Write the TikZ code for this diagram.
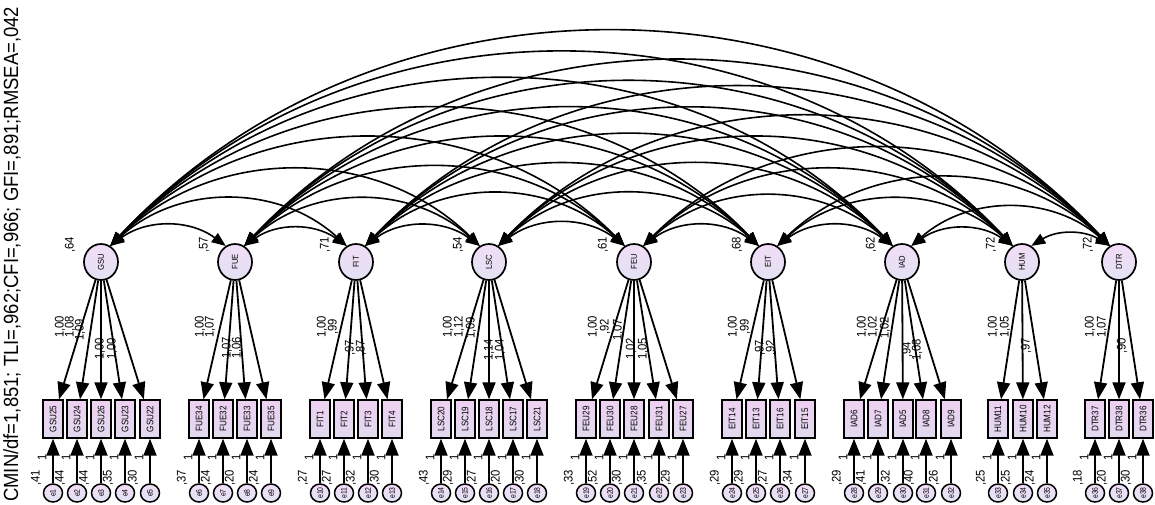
\documentclass[tikz,border=0pt]{standalone}
\usepackage{fontspec}
\setmainfont{Liberation Sans}
\usetikzlibrary{arrows.meta,shapes.geometric,calc}

\definecolor{latTop}{RGB}{241,220,246}
\definecolor{latBot}{RGB}{226,226,243}
\definecolor{obsTop}{RGB}{238,208,241}
\definecolor{obsBot}{RGB}{224,218,238}

% condensed numeric labels
\newcommand{\nlab}[1]{\scalebox{0.9}[1]{#1}}

\tikzset{
  latent/.style={ellipse, draw, line width=1.7pt, minimum width=34pt, minimum height=36pt,
    inner sep=0pt, top color=latTop, bottom color=latBot, font=\fontsize{8.5}{8.5}\selectfont},
  observed/.style={rectangle, draw, line width=1.4pt, minimum width=20pt, minimum height=38pt,
    inner sep=0pt, top color=obsTop, bottom color=obsBot, font=\fontsize{9.5}{9.5}\selectfont},
  errvar/.style={ellipse, draw, line width=1.5pt, minimum width=19pt, minimum height=18pt,
    inner sep=0pt, top color=latTop, bottom color=latBot, font=\fontsize{8}{8}\selectfont},
  loadpath/.style={line width=1.8pt, -{Triangle[length=17pt,width=13pt]}},
  errpath/.style={line width=1.8pt, -{Triangle[length=17pt,width=13pt]}},
  covpath/.style={line width=1.6pt, {Triangle[length=14pt,width=11pt]}-{Triangle[length=14pt,width=11pt]}},
  numlab/.style={rotate=90, inner sep=0pt, font=\fontsize{12.5}{12.5}\selectfont},
}

\begin{document}
\begin{tikzpicture}[x=1pt, y=-1pt]
\fill[white] (0,0) rectangle (1155,504);
\useasboundingbox (0,0) rectangle (1155,504);

% latent factors
\foreach \n/\x/\v in {GSU/101/{,}64, FUE/235/{,}57, FIT/356/{,}71, LSC/489/{,}54,
    FEU/634/{,}61, EIT/768/{,}68, IAD/902/{,}62, HUM/1022/{,}72, DTR/1119/{,}72} {
  \node[latent] (\n) at (\x,262) {\rotatebox{90}{\scalebox{0.9}[1]{\n}}};
  \node[numlab] at (\x-31,245) {\nlab{\v}};
}

% indicators with their error terms
\foreach \nm/\x/\lat/\e in {
    GSU25/53/GSU/1, GSU24/77/GSU/2, GSU26/101/GSU/3, GSU23/125/GSU/4, GSU22/150/GSU/5,
    FUE34/199/FUE/6, FUE32/223/FUE/7, FUE33/247/FUE/8, FUE35/271/FUE/9,
    FIT1/320/FIT/10, FIT2/344/FIT/11, FIT3/368/FIT/12, FIT4/392/FIT/13,
    LSC20/441/LSC/14, LSC19/465/LSC/15, LSC18/489/LSC/16, LSC17/513/LSC/17, LSC21/537/LSC/18,
    FEU29/586/FEU/19, FEU30/610/FEU/20, FEU28/634/FEU/21, FEU31/659/FEU/22, FEU27/683/FEU/23,
    EIT14/732/EIT/24, EIT13/756/EIT/25, EIT16/780/EIT/26, EIT15/805/EIT/27,
    IAD6/854/IAD/28, IAD7/878/IAD/29, IAD5/903/IAD/30, IAD8/926/IAD/31, IAD9/951/IAD/32,
    HUM11/998/HUM/33, HUM10/1023/HUM/34, HUM12/1047/HUM/35,
    DTR37/1095/DTR/36, DTR38/1119/DTR/37, DTR36/1143/DTR/38} {
  \node[observed] (\nm) at (\x,419) {\rotatebox{90}{\scalebox{0.85}[1]{\nm}}};
  \node[errvar] (e\e) at (\x,493) {\rotatebox{90}{\scalebox{0.85}[1]{e\e}}};
  \draw[loadpath] (\lat) -- (\nm);
  \draw[errpath] (e\e) -- (\nm);
  \node[numlab] at (\x-11,457) {\nlab{1}};
}

% error variances
\foreach \x/\v in {36/{,}41, 60/{,}44, 84/{,}44, 108/{,}35, 133/{,}30,
    182/{,}37, 206/{,}24, 230/{,}20, 254/{,}24,
    303/{,}27, 327/{,}27, 351/{,}32, 375/{,}30,
    424/{,}43, 448/{,}29, 472/{,}27, 496/{,}20, 520/{,}30,
    569/{,}33, 593/{,}52, 617/{,}30, 642/{,}35, 666/{,}29,
    715/{,}29, 739/{,}29, 763/{,}27, 788/{,}34,
    837/{,}29, 861/{,}41, 886/{,}32, 909/{,}40, 934/{,}26,
    981/{,}25, 1006/{,}25, 1030/{,}24,
    1078/{,}18, 1102/{,}20, 1126/{,}30} {
  \node[numlab] at (\x,478) {\nlab{\v}};
}

% factor loadings
\foreach \x/\y/\v in {
    60/327/1{,}00, 70/327/1{,}08, 80/330/1{,}09, 100/349/1{,}00, 112/349/1{,}00,
    200/327/1{,}00, 210/327/1{,}07, 227/348/1{,}07, 237/348/1{,}06,
    322/327/1{,}00, 333/327/{,}99, 350/348/{,}97, 361/348/{,}87,
    448/327/1{,}00, 459/327/1{,}12, 471/328/1{,}09, 489/350/1{,}14, 500/350/1{,}04,
    593/327/1{,}00, 605/327/{,}92, 618/330/1{,}07, 631/349/1{,}02, 643/349/1{,}05,
    733/327/1{,}00, 745/327/{,}99, 760/348/{,}97, 771/348/{,}92,
    862/327/1{,}00, 873/327/1{,}02, 885/328/1{,}02, 907/350/{,}94, 917/350/1{,}08,
    993/327/1{,}00, 1005/327/1{,}05, 1026/346/{,}97,
    1090/327/1{,}00, 1102/327/1{,}07, 1122/346/{,}90} {
  \node[numlab] at (\x,\y) {\nlab{\v}};
}

% factor covariances
\foreach \a/\b/\v in {
    GSU/FUE/{,}41, GSU/FIT/{,}42, GSU/LSC/{,}50, GSU/FEU/{,}51, GSU/EIT/{,}50, GSU/IAD/{,}46, GSU/HUM/{,}52, GSU/DTR/{,}55,
    FUE/FIT/{,}53, FUE/LSC/{,}46, FUE/FEU/{,}53, FUE/EIT/{,}50, FUE/IAD/{,}47, FUE/HUM/{,}48, FUE/DTR/{,}53,
    FIT/LSC/{,}48, FIT/FEU/{,}50, FIT/EIT/{,}58, FIT/IAD/{,}57, FIT/HUM/{,}55, FIT/DTR/{,}51,
    LSC/FEU/{,}49, LSC/EIT/{,}50, LSC/IAD/{,}48, LSC/HUM/{,}51, LSC/DTR/{,}53,
    FEU/EIT/{,}52, FEU/IAD/{,}51, FEU/HUM/{,}53, FEU/DTR/{,}56,
    EIT/IAD/{,}50, EIT/HUM/{,}63, EIT/DTR/{,}56,
    IAD/HUM/{,}59, IAD/DTR/{,}53,
    HUM/DTR/{,}58} {
  \draw[covpath] let \p1=(\a.center), \p2=(\b.center),
      \n1={asin(min(0.95,(0.22*(\x2-\x1)-9)/(0.2936*((\x2-\x1)-17))))} in
      (\a.60) to[bend left=\n1] (\b.120);
  \path let \p1=(\a.center), \p2=(\b.center) in
      node[numlab, anchor=west] at ({0.5*(\x1+\x2)},{251-0.22*(\x2-\x1)}) {\nlab{\v}};
}

% fit statistics
\node[rotate=90, anchor=west, inner sep=0pt, font=\fontsize{20.5}{20.5}\selectfont] (fit) at (12,502)
  {\scalebox{0.9}[1]{CMIN/df=1,851; TLI=,962;CFI=,966; GFI=,891;RMSEA=,042}};
\end{tikzpicture}
\end{document}
